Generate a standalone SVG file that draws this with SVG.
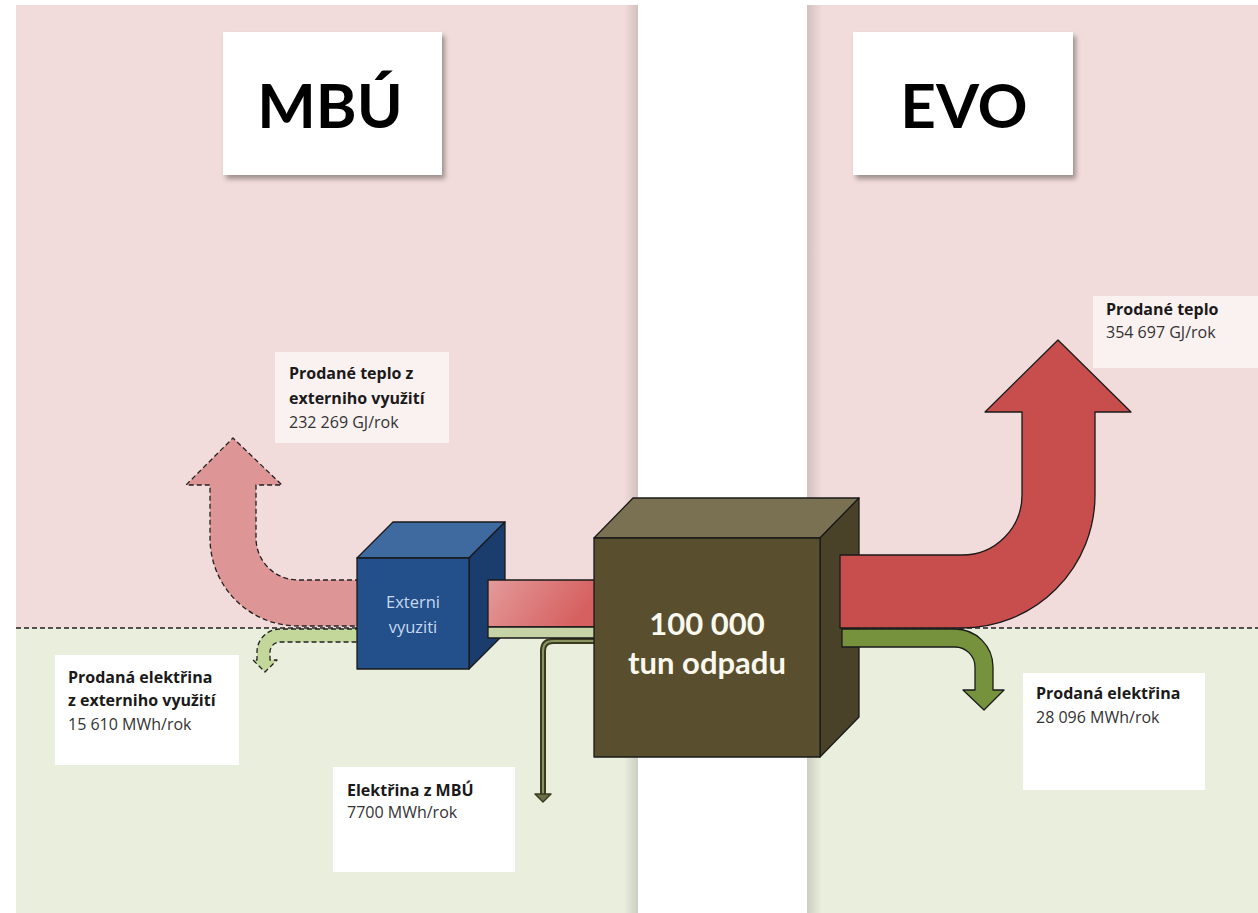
<svg xmlns="http://www.w3.org/2000/svg" width="1258" height="913" viewBox="0 0 1258 913">
<style>
.lbl{font-family:"Open Sans",Lato,"Liberation Sans",sans-serif;font-size:16px;fill:#1a1a1a}
.b{font-weight:bold}
.r{fill:#333}
.title{font-family:Lato,"Open Sans","Liberation Sans",sans-serif;font-weight:bold;font-size:62px;fill:#000;text-anchor:middle}
.edge{stroke:#1a1a1a;stroke-width:1.3;stroke-linejoin:round}
.dash{stroke:#222;stroke-width:1.3;stroke-dasharray:5 3;stroke-linejoin:round}
</style>
<defs>
<filter id="sh" x="-10%" y="-10%" width="125%" height="130%">
<feDropShadow dx="3" dy="4" stdDeviation="2.5" flood-color="#000" flood-opacity="0.35"/>
</filter>
<linearGradient id="shR" x1="0" x2="1" y1="0" y2="0">
<stop offset="0" stop-color="#000" stop-opacity="0"/>
<stop offset="1" stop-color="#000" stop-opacity="0.13"/>
</linearGradient>
<linearGradient id="shL" x1="0" x2="1" y1="0" y2="0">
<stop offset="0" stop-color="#000" stop-opacity="0.13"/>
<stop offset="1" stop-color="#000" stop-opacity="0"/>
</linearGradient>
<linearGradient id="pinkbar" x1="0" x2="1" y1="0" y2="0.3">
<stop offset="0" stop-color="#e49a9a"/>
<stop offset="1" stop-color="#d65f5f"/>
</linearGradient>
</defs>

<g id="background">
<rect x="0" y="0" width="1258" height="913" fill="#ffffff"/>
<rect x="16" y="5" width="622" height="623" fill="#f2dcdb"/>
<rect x="16" y="628" width="622" height="285" fill="#eaeedd"/>
<rect x="807" y="5" width="451" height="623" fill="#f2dcdb"/>
<rect x="807" y="628" width="451" height="285" fill="#eaeedd"/>
<rect x="624" y="5" width="14" height="908" fill="url(#shR)"/>
<rect x="807" y="5" width="15" height="908" fill="url(#shL)"/>
<line x1="16" y1="628" x2="638" y2="628" class="dash" fill="none"/>
<line x1="807" y1="628" x2="1258" y2="628" class="dash" fill="none"/>
</g>

<g id="title-mbu">
<rect x="223" y="32" width="219" height="143" fill="#ffffff" filter="url(#sh)"/>
<text x="330" y="128" class="title">MBÚ</text>
</g>
<g id="title-evo">
<rect x="853" y="32" width="220" height="143" fill="#ffffff" filter="url(#sh)"/>
<text x="964" y="128" class="title">EVO</text>
</g>

<g id="label-teplo-ext">
<rect x="275" y="352" width="174" height="91" fill="#ffffff" fill-opacity="0.6"/>
<text class="lbl" x="289" y="379"><tspan class="b">Prodané teplo z</tspan><tspan class="b" x="289" dy="25">externiho využití</tspan><tspan class="r" x="289" dy="24">232 269 GJ/rok</tspan></text>
</g>
<g id="label-teplo-evo">
<rect x="1093" y="296" width="165" height="72" fill="#ffffff" fill-opacity="0.6"/>
<text class="lbl" x="1106" y="315"><tspan class="b">Prodané teplo</tspan><tspan class="r" x="1106" dy="23">354 697 GJ/rok</tspan></text>
</g>
<g id="label-elektrina-ext">
<rect x="55" y="655" width="184" height="110" fill="#ffffff"/>
<text class="lbl" x="68" y="683"><tspan class="b">Prodaná elektřina</tspan><tspan class="b" x="68" dy="23">z externiho využití</tspan><tspan class="r" x="68" dy="24">15 610 MWh/rok</tspan></text>
</g>
<g id="label-elektrina-mbu">
<rect x="333" y="767" width="182" height="105" fill="#ffffff"/>
<text class="lbl" x="347" y="796"><tspan class="b">Elektřina z MBÚ</tspan><tspan class="r" x="347" dy="22">7700 MWh/rok</tspan></text>
</g>
<g id="label-elektrina-evo">
<rect x="1023" y="673" width="182" height="117" fill="#ffffff"/>
<text class="lbl" x="1036" y="699"><tspan class="b">Prodaná elektřina</tspan><tspan class="r" x="1036" dy="24">28 096 MWh/rok</tspan></text>
</g>

<g id="connectors">
<path class="dash" fill="#dd9595" d="M 360 580 L 298 580 A 42 42 0 0 1 256 538 L 256 485 L 282 485 L 233 438 L 186 485 L 210 485 L 210 538 A 88 88 0 0 0 298 626 L 360 626 Z"/>
<path class="dash" fill="#c4d79b" d="M 360 629 L 280 629 A 23 23 0 0 0 257 652 L 257 660 L 253 660 L 265 672 L 277 660 L 270 660 L 270 652 A 10 10 0 0 1 280 642 L 360 642 Z"/>
<path d="M 598 641 L 553 641 Q 543 641 543 651 L 543 795" fill="none" stroke="#3b3b22" stroke-width="6"/>
<path d="M 598 641 L 553 641 Q 543 641 543 651 L 543 795" fill="none" stroke="#8a9460" stroke-width="2"/>
<path d="M 535 794 L 551 794 L 543 802 Z" fill="#6b7045" stroke="#3b3b22" stroke-width="1.5" stroke-linejoin="round"/>
</g>

<g id="node-externi">
<polygon class="edge" points="357,558 393,522 505,522 469,558" fill="#3e6aa0"/>
<polygon class="edge" points="469,558 505,522 505,633 469,669" fill="#1a3d6e"/>
<rect class="edge" x="357" y="558" width="112" height="111" fill="#234f8a"/>
<text font-family="'Open Sans',Lato,'Liberation Sans',sans-serif" font-size="16.5" fill="#c6d9f1" text-anchor="middle"><tspan x="413" y="608">Externi</tspan><tspan x="413" y="633">vyuziti</tspan></text>
</g>

<g id="connectors-bars">
<rect class="edge" x="488" y="580" width="110" height="47" fill="url(#pinkbar)"/>
<rect class="edge" x="488" y="627" width="110" height="11" fill="#c6d3a6"/>
</g>

<g id="node-mbu">
<polygon class="edge" points="594,538 633,498 859,498 820,538" fill="#7a7152"/>
<polygon class="edge" points="820,538 859,498 859,717 820,757" fill="#494229"/>
<rect class="edge" x="594" y="538" width="226" height="219" fill="#594f2f"/>
<text font-family="Lato,'Open Sans','Liberation Sans',sans-serif" font-weight="bold" font-size="31" fill="#fbf8ee" text-anchor="middle"><tspan x="707" y="635">100 000</tspan><tspan x="707" y="674">tun odpadu</tspan></text>
</g>

<g id="connectors-evo">
<path class="edge" fill="#c84d4d" d="M 840 555 L 962 555 A 60 60 0 0 0 1022 495 L 1022 412 L 985 412 L 1058 340 L 1131 412 L 1095 412 L 1095 495 A 133 133 0 0 1 962 628 L 840 628 Z"/>
<path class="edge" fill="#76923c" d="M 842 629 L 955 629 A 38 38 0 0 1 993 667 L 993 690 L 1004 690 L 984 710 L 963 690 L 975 690 L 975 667 A 20 20 0 0 0 955 647 L 842 647 Z"/>
</g>
</svg>
